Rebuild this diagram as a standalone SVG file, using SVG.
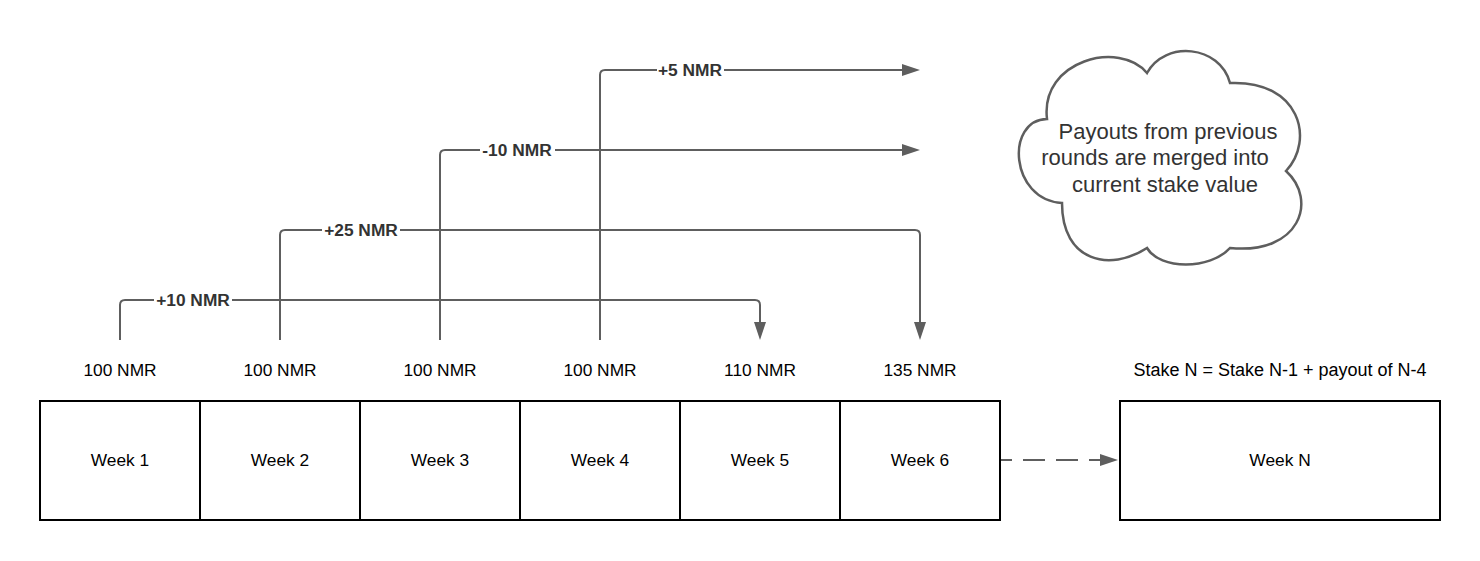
<svg xmlns="http://www.w3.org/2000/svg" width="1480" height="561" viewBox="0 0 1480 561">
<defs>
<style>
.box{fill:#fff;stroke:#000;stroke-width:2}
.t{font-family:"Liberation Sans",Arial,sans-serif;font-size:17.33px;fill:#000;text-anchor:middle}
.b{font-family:"Liberation Sans",Arial,sans-serif;font-size:17.33px;font-weight:bold;fill:#333;text-anchor:middle}
.c{stroke:#5e5e5e;stroke-width:2;fill:none}
.lb{fill:#fff}
.cl{font-family:"Liberation Sans",Arial,sans-serif;font-size:22px;fill:#333;text-anchor:middle}
</style>
<marker id="ah" markerUnits="userSpaceOnUse" markerWidth="18" markerHeight="12" refX="8" refY="6" orient="auto" viewBox="0 0 18 12">
<path d="M0,0 L18,6 L0,12 Z" fill="#5e5e5e"/>
</marker>
</defs>
<rect width="1480" height="561" fill="#fff"/>

<g id="connectors">
<path class="c" d="M120 340 V305 Q120 300 125 300 H755 Q760 300 760 305 V330" marker-end="url(#ah)"/>
<path class="c" d="M280 340 V235 Q280 230 285 230 H915 Q920 230 920 235 V330" marker-end="url(#ah)"/>
<path class="c" d="M440 340 V155 Q440 150 445 150 H910" marker-end="url(#ah)"/>
<path class="c" d="M600 340 V75 Q600 70 605 70 H910" marker-end="url(#ah)"/>
<path class="c" d="M1000 460 H1108" stroke-dasharray="22 11" stroke-dashoffset="10" marker-end="url(#ah)"/>
<rect class="lb" x="154" y="290" width="78" height="20"/>
<text class="b" x="193" y="306">+10 NMR</text>
<rect class="lb" x="322" y="220" width="78" height="20"/>
<text class="b" x="361" y="236">+25 NMR</text>
<rect class="lb" x="480" y="140" width="75" height="20"/>
<text class="b" x="517" y="156">-10 NMR</text>
<rect class="lb" x="657" y="60" width="67" height="20"/>
<text class="b" x="690" y="76">+5 NMR</text>
</g>

<g id="stakes">
<text class="t" x="120" y="376">100 NMR</text>
<text class="t" x="280" y="376">100 NMR</text>
<text class="t" x="440" y="376">100 NMR</text>
<text class="t" x="600" y="376">100 NMR</text>
<text class="t" x="760" y="376">110 NMR</text>
<text class="t" x="920" y="376">135 NMR</text>
<text class="t" x="1280" y="376" style="font-size:18px">Stake N = Stake N-1 + payout of N-4</text>
</g>

<g id="week1"><rect class="box" x="40" y="401" width="160" height="119"/><text class="t" x="120" y="466">Week 1</text></g>
<g id="week2"><rect class="box" x="200" y="401" width="160" height="119"/><text class="t" x="280" y="466">Week 2</text></g>
<g id="week3"><rect class="box" x="360" y="401" width="160" height="119"/><text class="t" x="440" y="466">Week 3</text></g>
<g id="week4"><rect class="box" x="520" y="401" width="160" height="119"/><text class="t" x="600" y="466">Week 4</text></g>
<g id="week5"><rect class="box" x="680" y="401" width="160" height="119"/><text class="t" x="760" y="466">Week 5</text></g>
<g id="week6"><rect class="box" x="840" y="401" width="160" height="119"/><text class="t" x="920" y="466">Week 6</text></g>
<g id="weekN"><rect class="box" x="1120" y="401" width="320" height="119"/><text class="t" x="1280" y="466">Week N</text></g>

<g id="cloud">
<path d="M1047 119 C1040 60 1120 40 1147 73 C1165 40 1220 45 1230 83 C1300 80 1315 140 1286 171 C1318 200 1300 255 1230 248 C1210 270 1160 270 1147 248 C1110 272 1062 262 1062 203 C1010 200 1005 120 1047 119 Z" fill="#fff" stroke="#5e5e5e" stroke-width="2.5"/>
<text class="cl" x="1168" y="139">Payouts from previous</text>
<text class="cl" x="1155" y="165">rounds are merged into</text>
<text class="cl" x="1165" y="192">current stake value</text>
</g>
</svg>
